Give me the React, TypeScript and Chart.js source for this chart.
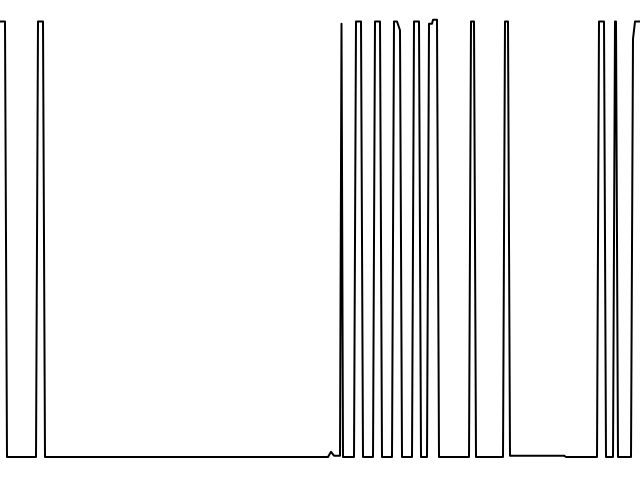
import React, { useEffect, useRef } from "react";
import { Chart, registerables } from "chart.js";

Chart.register(...registerables);

// Sample positions (time index) and binary-like signal values
const xValues: number[] = [
  0, 5, 7, 36, 38, 43, 45,
  328, 331, 334, 340, 341.5, 343,
  354, 356, 361, 363,
  373, 375, 380, 382,
  392, 394, 397, 400, 402,
  412, 414, 419, 421,
  427, 429, 432, 433, 437, 439,
  469, 471, 474, 476,
  503, 505, 508, 510,
  564, 566, 597, 599, 604, 606,
  613, 615, 616, 618,
  631, 633, 635, 640,
];
const yValues: number[] = [
  1, 1, 0, 0, 1, 1, 0,
  0, 0.012, 0.003, 0.003, 0.995, 0,
  0, 1, 1, 0,
  0, 1, 1, 0,
  0, 1, 1, 0.98, 0,
  0, 1, 1, 0,
  0, 0.995, 0.995, 1.004, 1.004, 0,
  0, 1, 1, 0,
  0, 1, 1, 0.003,
  0.003, 0, 0, 1, 1, 0,
  0, 1, 1, 0,
  0, 0.96, 1, 1,
];

export default function App() {
  const canvasRef = useRef<HTMLCanvasElement | null>(null);

  useEffect(() => {
    if (!canvasRef.current) return;
    const points = xValues.map((x, i) => ({ x, y: yValues[i] }));
    const chart = new Chart(canvasRef.current, {
      type: "line",
      data: {
        datasets: [
          {
            data: points,
            borderColor: "#000000",
            borderWidth: 2,
            borderJoinStyle: "round",
            borderCapStyle: "round",
            pointRadius: 0,
            tension: 0,
            fill: false,
          },
        ],
      },
      options: {
        animation: false,
        responsive: true,
        maintainAspectRatio: false,
        layout: { padding: 0 },
        plugins: { legend: { display: false }, tooltip: { enabled: false } },
        scales: {
          x: { type: "linear", min: 0, max: 640, display: false },
          y: { type: "linear", min: -0.0528, max: 1.0494, display: false },
        },
      },
    });
    return () => chart.destroy();
  }, []);

  return (
    <div style={{ position: "fixed", left: 0, top: 0, width: 640, height: 480, background: "#ffffff" }}>
      <canvas ref={canvasRef} />
    </div>
  );
}
